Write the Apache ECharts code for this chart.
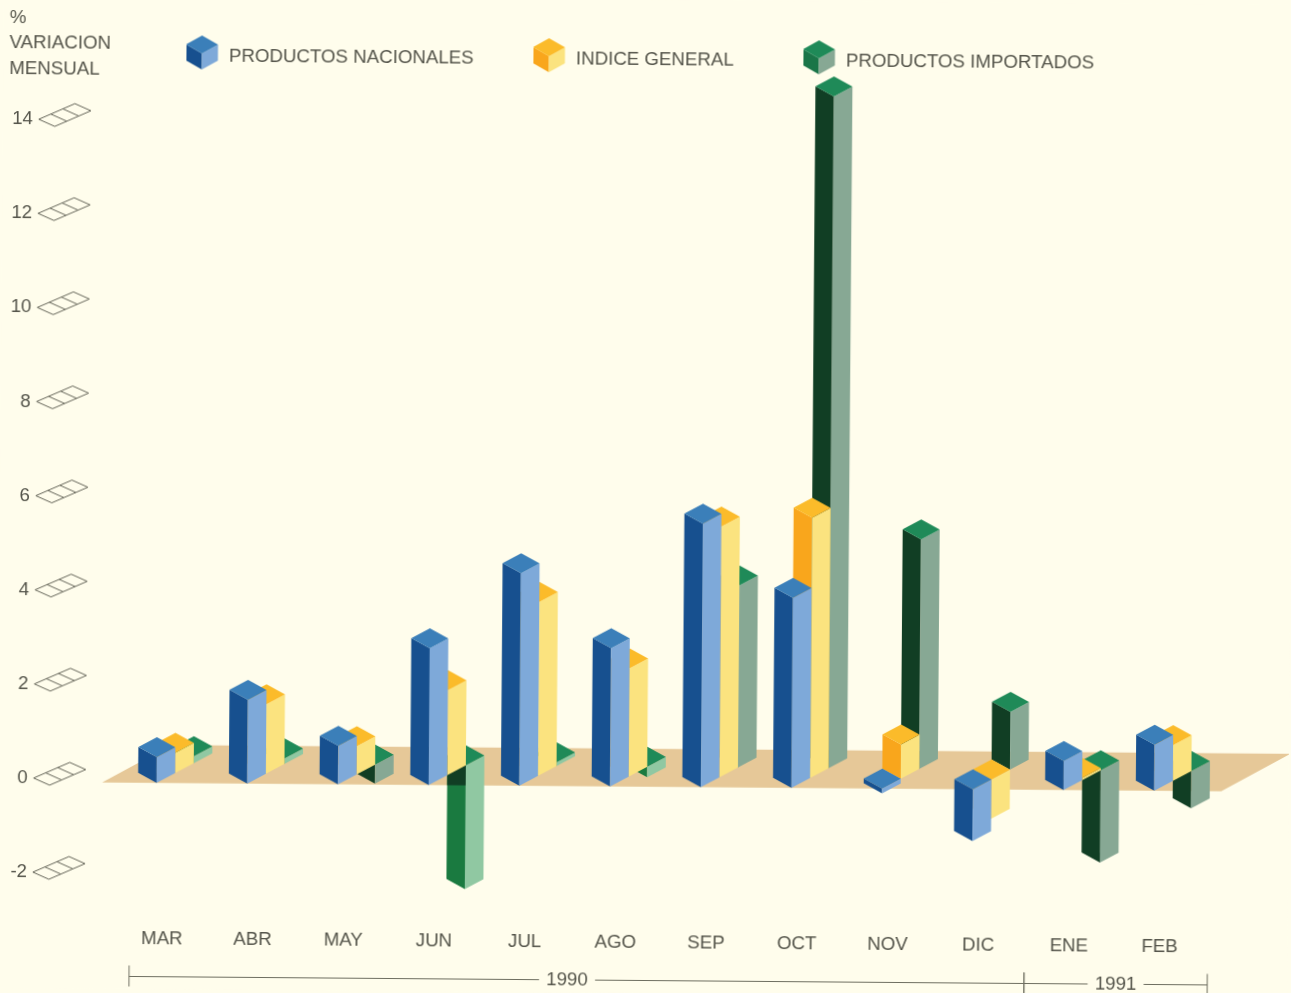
<!DOCTYPE html>
<html>
<head>
<meta charset="utf-8">
<script src="https://cdn.jsdelivr.net/npm/echarts@6/dist/echarts.min.js"></script>
<style>
html,body{margin:0;padding:0;background:#fffdec;overflow:hidden;width:1291px;height:993px}
#chart{position:absolute;left:0;top:0;width:1291px;height:993px;transform:rotate(0.45deg)}
</style>
</head>
<body>
<div id="chart"></div>
<script>
var months = ['MAR','ABR','MAY','JUN','JUL','AGO','SEP','OCT','NOV','DIC','ENE','FEB'];
var nacionales = [0.55,1.78,0.82,2.91,4.52,2.94,5.6,4.04,-0.1,-1.1,0.62,0.98];
var general = [0.43,1.48,0.6,1.81,3.7,2.3,5.33,5.53,0.73,-0.83,0.05,0.76];
var importados = [0.15,0.12,-0.4,-2.63,0.08,-0.22,3.87,14.28,4.88,1.23,-1.96,-0.79];
var yTicks = [14,12,10,8,6,4,2,0,-2];
var yearLabels = ['1990','1991'];
var yearFrom = [0,10];
var yearTo = [9,11];
var axisTitle = '%\nVARIACION\nMENSUAL';
var nameN = 'PRODUCTOS NACIONALES', nameG = 'INDICE GENERAL', nameI = 'PRODUCTOS IMPORTADOS';
var brightGreenMonths = ['MAR','ABR','JUN','JUL','AGO'];

var INK = '#55554b', FONT = '"Liberation Sans", Arial, sans-serif', FS = 18.7;
var HW = 18.5, DY = 10, ZERO_SHIFT = -6;
var BLUE = {top:'#3b7fb9', left:'#17508f', right:'#7ea9d9'};
var YELL = {top:'#fbbb2a', left:'#f9a61c', right:'#fbe37f'};
var GREEN = {top:'#1f8a58', left:'#113e24', right:'#87a894'};
var GREEN_BRIGHT = {top:'#1f8a58', left:'#1a7a40', right:'#90c8a2'};
var GREEN_ICON = {top:'#1f8a58', left:'#1a7548', right:'#87a894'};

function poly(pts, fill){ return {type:'polygon', shape:{points:pts}, style:{fill:fill}, silent:true}; }

function barRender(pal, depth){
  return function(params, api){
    var i = api.value(0), v = api.value(1);
    var x = api.coord([i,0])[0] - 6.5 + depth*HW;
    var shift = ZERO_SHIFT - depth*DY;
    var yHi = api.coord([i,Math.max(v,0)])[1] + shift;
    var yLo = api.coord([i,Math.min(v,0)])[1] + shift;
    var p = pal;
    if (depth === 2 && brightGreenMonths.indexOf(months[i]) >= 0) p = GREEN_BRIGHT;
    var kids = [
      poly([[x-HW,yHi],[x,yHi+DY],[x,yLo+DY],[x-HW,yLo]], p.left),
      poly([[x+HW,yHi],[x,yHi+DY],[x,yLo+DY],[x+HW,yLo]], p.right),
      poly([[x-HW,yHi],[x,yHi-DY],[x+HW,yHi],[x,yHi+DY]], p.top)
    ];
    if (depth === 2 && v < -1 && p === GREEN_BRIGHT) {
      var fy = api.coord([i,0])[1] + ZERO_SHIFT + DY;
      kids.splice(2,0,poly([[x-HW,yHi],[x,yHi+DY],[x,fy],[x-HW,fy]], GREEN.left));
    }
    return {type:'group', children:kids};
  };
}

function floorRender(params, api){
  var a = api.coord([0,0]), b = api.coord([months.length-1,0]);
  var y = a[1] + ZERO_SHIFT, l = a[0]-8, r = b[0]-8;
  return poly([[l-53,y+10],[r+68.5,y+10],[r+137,y-28],[l+16,y-28]], '#e6c898');
}

function tickRender(params, api){
  var c = api.coord([0,api.value(1)]);
  var x = c[0]-129.5, y = c[1];
  var dx = 12, dy = -5.3, wx = 16, wy = 7;
  var st = {stroke:'#66665a',lineWidth:1};
  var kids = [];
  for (var k=0;k<=3;k++) kids.push({type:'line',silent:true,
    shape:{x1:x+k*dx,y1:y+k*dy,x2:x+k*dx+wx,y2:y+k*dy+wy},style:st});
  kids.push({type:'line',silent:true,shape:{x1:x,y1:y,x2:x+3*dx,y2:y+3*dy},style:st});
  kids.push({type:'line',silent:true,shape:{x1:x+wx,y1:y+wy,x2:x+wx+3*dx,y2:y+wy+3*dy},style:st});
  return {type:'group',children:kids};
}

function yearRender(params, api){
  var g = params.dataIndex, from = api.value(0), to = api.value(1);
  var xl = api.coord([from,0])[0] - (g===0 ? 32.5 : 44.5);
  var xr = api.coord([to,0])[0] + (g===0 ? 46 : 48);
  var y = api.coord([from,-3])[1] + 56.5;
  var tc = g===0 ? xl + 438 : (xl+xr)/2;
  var st = {stroke:'#6e6e60',lineWidth:1};
  function ln(a,b,c,d){return {type:'line',silent:true,shape:{x1:a,y1:b,x2:c,y2:d},style:st};}
  return {type:'group',children:[
    ln(xl,y,tc-28,y), ln(tc+28,y,xr,y), ln(xl,y-11,xl,y+10), ln(xr,y-11,xr,y+10),
    {type:'text',silent:true,style:{x:tc,y:y,text:yearLabels[g],fill:INK,font:FS+'px '+FONT,align:'center',verticalAlign:'middle'}}
  ]};
}

function cube(p){
  var svg = '<svg xmlns="http://www.w3.org/2000/svg" width="38" height="42" viewBox="0 0 38 42">'+
   '<polygon points="0,9 16,18 16,34 0,25" fill="'+p.left+'"/>'+
   '<polygon points="32,9 16,18 16,34 32,25" fill="'+p.right+'"/>'+
   '<polygon points="0,9 16,0 32,9 16,18" fill="'+p.top+'"/></svg>';
  return 'image://data:image/svg+xml;charset=utf-8,'+encodeURIComponent(svg);
}
function legendAt(name,p,left,top){
  return {show:true,left:left,top:top,padding:0,itemWidth:38,itemHeight:42,selectedMode:false,orient:'horizontal',
    data:[{name:name,icon:cube(p)}],textStyle:{color:INK,fontFamily:FONT,fontSize:FS}};
}
function pairs(arr){ return arr.map(function(v,i){ return [i,v]; }); }
function barSeries(name,vals,pal,depth){
  return {type:'custom',name:name,data:pairs(vals),renderItem:barRender(pal,depth),encode:{x:0,y:1},clip:false,z:3+(2-depth)};
}

var chart = echarts.init(document.getElementById('chart'),null,{renderer:'canvas'});
chart.setOption({
  animation:false,
  backgroundColor:'#fffdec',
  title:{text:axisTitle,left:6,top:10,padding:0,textStyle:{color:INK,fontFamily:FONT,fontSize:FS,fontWeight:'normal',lineHeight:25.5}},
  legend:[legendAt(nameN,BLUE,182.5,39),legendAt(nameG,YELL,529.5,39),legendAt(nameI,GREEN_ICON,799.5,39)],
  grid:{left:120,width:1088.4,top:77,bottom:69},
  xAxis:{type:'category',data:months,axisLine:{show:false},axisTick:{show:false},
    axisLabel:{color:INK,fontFamily:FONT,fontSize:FS,margin:9,interval:0},splitLine:{show:false}},
  yAxis:{type:'value',min:-3,max:15,interval:1,axisLine:{show:false},axisTick:{show:false},splitLine:{show:false},
    axisLabel:{color:INK,fontFamily:FONT,fontSize:FS,margin:90,align:'right',
      formatter:function(v){return yTicks.indexOf(v)>=0?String(v):'';}}},
  series:[
    {type:'custom',name:'piso',data:[[0,0]],renderItem:floorRender,encode:{x:0,y:1},clip:false,z:1,silent:true},
    {type:'custom',name:'marcas',data:yTicks.map(function(v){return [0,v];}),renderItem:tickRender,encode:{x:0,y:1},clip:false,z:2,silent:true},
    barSeries(nameI,importados,GREEN,2),
    barSeries(nameG,general,YELL,1),
    barSeries(nameN,nacionales,BLUE,0),
    {type:'custom',name:'años',data:yearFrom.map(function(f,i){return [f,yearTo[i]];}),renderItem:yearRender,clip:false,z:2,silent:true,
      encode:{x:0},dimensions:['from','to']}
  ]
});
</script>
</body>
</html>
